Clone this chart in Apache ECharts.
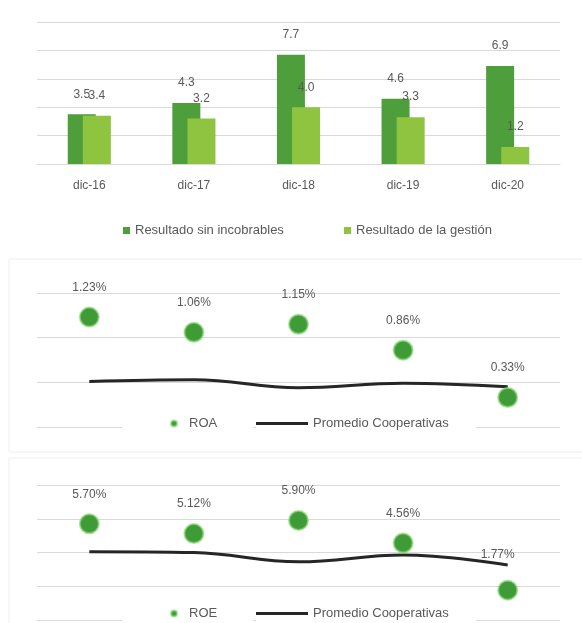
<!DOCTYPE html>
<html lang="es">
<head>
    <meta charset="UTF-8">
    <title>Resultados, ROA y ROE</title>
    <script src="https://cdn.jsdelivr.net/npm/echarts@6/dist/echarts.min.js"></script>
    <style>
        html, body { margin: 0; padding: 0; background: #fff; }
        #chart { width: 582px; height: 623px; }
    </style>
</head>
<body>
    <div id="chart"></div>

    <script>
        // datos
        const periodos = ['dic-16', 'dic-17', 'dic-18', 'dic-19', 'dic-20'];
        const resultadoSinIncobrables = [3.5, 4.3, 7.7, 4.6, 6.9];
        const resultadoGestion = [3.4, 3.2, 4.0, 3.3, 1.2];
        const roa = [1.23, 1.06, 1.15, 0.86, 0.33];
        const promedioRoa = [0.51, 0.53, 0.44, 0.49, 0.45];
        const roe = [5.70, 5.12, 5.90, 4.56, 1.77];
        const promedioRoe = [4.05, 4.0, 3.45, 3.85, 3.26];

        const gris = '#595959';
        const rejilla = '#d9d9d9';
        const verdeOscuro = '#4e9f3c';
        const verdeClaro = '#8fc441';
        const verdePunto = '#3f9b36';
        const fuente = "'Liberation Sans', Arial, sans-serif";

        const chart = echarts.init(document.getElementById('chart'));

        function ejeY(idx, max, interval) {
            return {
                type: 'value', gridIndex: idx, min: 0, max: max, interval: interval,
                axisLabel: { show: false }, axisLine: { show: false }, axisTick: { show: false },
                splitLine: { lineStyle: { color: rejilla, width: 1 } }
            };
        }
        function ejeX(idx, visible) {
            return {
                type: 'category', gridIndex: idx, data: periodos,
                axisLine: { show: visible, lineStyle: { color: rejilla } },
                axisTick: { show: false },
                axisLabel: { show: visible, color: gris, fontSize: 12, fontFamily: fuente, margin: 16 }
            };
        }
        function etiqueta(dec, sufijo, dist) {
            return {
                show: true, position: 'top', distance: dist, color: gris, fontSize: 12, fontFamily: fuente,
                formatter: p => p.value.toFixed(dec) + sufijo
            };
        }
        // leyenda del punto: fondo blanco que tapa la linea de rejilla
        function leyendaPunto(nombre, top) {
            return {
                data: [nombre], left: 122, top: top, itemWidth: 20, itemHeight: 6,
                backgroundColor: '#fff', padding: [5, 36, 5, 48],
                textStyle: { color: gris, fontSize: 13, fontFamily: fuente }
            };
        }
        function leyendaLinea(top) {
            return {
                data: [{ name: 'Promedio Cooperativas', icon: 'rect' }], left: 256, top: top,
                itemWidth: 52, itemHeight: 3, backgroundColor: '#fff', padding: [5, 27, 5, 0],
                textStyle: { color: gris, fontSize: 13, fontFamily: fuente }
            };
        }

        const puntoEstilo = { color: verdePunto, opacity: 1, borderColor: 'rgba(140,215,120,0.7)', borderWidth: 2 };

        const option = {
            animation: false,
            graphic: [
                { type: 'rect', shape: { x: 9, y: 259, width: 600, height: 193 }, style: { fill: 'none', stroke: '#eeeeee' }, silent: true },
                { type: 'rect', shape: { x: 9, y: 458, width: 600, height: 200 }, style: { fill: 'none', stroke: '#eeeeee' }, silent: true }
            ],
            grid: [
                { left: 37, right: 22, top: 22, height: 142 },
                { left: 37, right: 22, top: 293, height: 134 },
                { left: 37, right: 22, top: 485, height: 135 }
            ],
            xAxis: [ejeX(0, true), ejeX(1, false), ejeX(2, false)],
            yAxis: [ejeY(0, 10, 2), ejeY(1, 1.5, 0.5), ejeY(2, 8, 2)],
            legend: [
                {
                    data: ['Resultado sin incobrables'], left: 123, top: 224, itemWidth: 7, itemHeight: 7,
                    icon: 'rect', padding: 0, textStyle: { color: gris, fontSize: 13, fontFamily: fuente }
                },
                {
                    data: ['Resultado de la gestión'], left: 344, top: 224, itemWidth: 7, itemHeight: 7,
                    icon: 'rect', padding: 0, textStyle: { color: gris, fontSize: 13, fontFamily: fuente }
                },
                leyendaPunto('ROA', 412),
                leyendaLinea(412),
                leyendaPunto('ROE', 602),
                leyendaLinea(602)
            ],
            series: [
                {
                    name: 'Resultado sin incobrables', type: 'bar', xAxisIndex: 0, yAxisIndex: 0,
                    data: resultadoSinIncobrables, barWidth: 28, barGap: '-46%',
                    itemStyle: { color: verdeOscuro }, label: etiqueta(1, '', 14)
                },
                {
                    name: 'Resultado de la gestión', type: 'bar', xAxisIndex: 0, yAxisIndex: 0,
                    data: resultadoGestion, barWidth: 28, barGap: '-46%',
                    itemStyle: { color: verdeClaro }, label: etiqueta(1, '', 14)
                },
                {
                    name: 'Promedio Cooperativas', type: 'line', xAxisIndex: 1, yAxisIndex: 1,
                    data: promedioRoa, smooth: 0.4, showSymbol: false, symbol: 'none',
                    lineStyle: { color: '#262626', width: 3 }, itemStyle: { color: '#262626' }, z: 2
                },
                {
                    name: 'ROA', type: 'scatter', xAxisIndex: 1, yAxisIndex: 1, data: roa, symbolSize: 19,
                    itemStyle: puntoEstilo, label: etiqueta(2, '%', 13), z: 3
                },
                {
                    name: 'Promedio Cooperativas', type: 'line', xAxisIndex: 2, yAxisIndex: 2,
                    data: promedioRoe, smooth: 0.4, showSymbol: false, symbol: 'none',
                    lineStyle: { color: '#262626', width: 3 }, itemStyle: { color: '#262626' }, z: 2
                },
                {
                    name: 'ROE', type: 'scatter', xAxisIndex: 2, yAxisIndex: 2,
                    data: roe.map((v, i) => i === roe.length - 1
                        ? { value: v, label: { offset: [-10, -6] } } : v),
                    symbolSize: 19, itemStyle: puntoEstilo, label: etiqueta(2, '%', 13), z: 3
                }
            ]
        };

        chart.setOption(option);
    </script>
</body>
</html>
